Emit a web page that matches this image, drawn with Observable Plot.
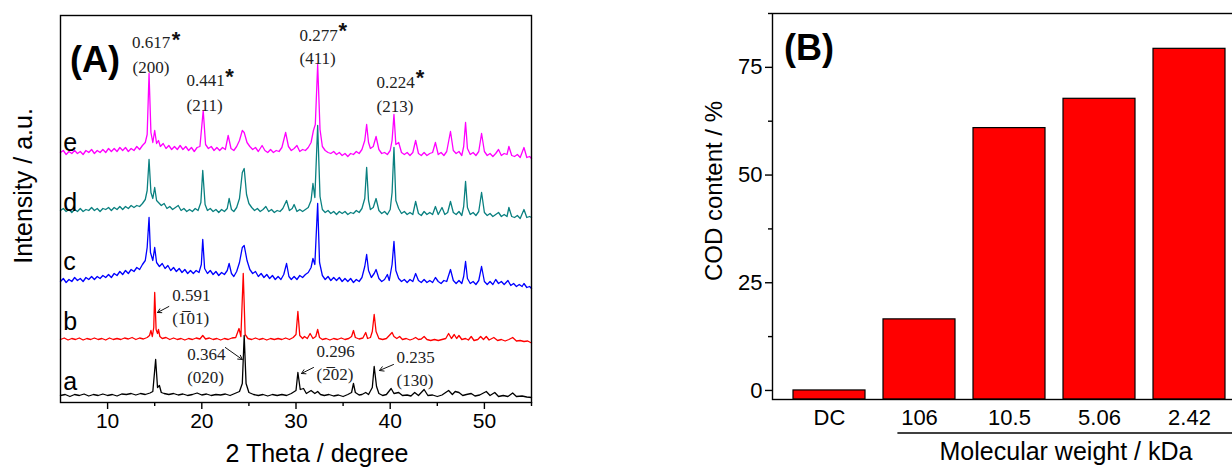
<!DOCTYPE html>
<html><head><meta charset="utf-8">
<script src="https://cdn.jsdelivr.net/npm/d3@7"></script>
<script src="https://cdn.jsdelivr.net/npm/@observablehq/plot@0.6"></script>
<style>
html,body{margin:0;padding:0;background:#fff;}
#wrap{position:relative;width:1232px;height:469px;overflow:hidden;background:#fff;}
#wrap svg{position:absolute;top:0;}
</style></head><body><div id="wrap"></div>
<script>
const SANS = "'Liberation Sans', Arial, Helvetica, sans-serif";
const SERIF = "'Liberation Serif', 'Times New Roman', serif";

// ---------- Panel A data (XRD patterns, 2θ in degrees, intensity in a.u.) ----------
const sampleNames = ["a", "b", "c", "d", "e"];
const sampleColors = ["#000000", "#ff0000", "#0000ff", "#0a8080", "#ff00ff"];
const sampleOffsets = [7, 63, 120, 190, 248];
const letterY = [13, 73, 133, 192, 252];
const majorTicksA = [10, 20, 30, 40, 50];
const minorTicksA = [15, 25, 35, 45, 55];

const traceA = [[5,0],[5.5,1],[6,-1],[6.5,1],[7,0],[7.5,1.5],[8,-0.5],[8.5,1],[9,0],[9.5,1.5],[10,0],[10.5,1],[11,-0.5],[11.5,1.5],[12,1],[12.5,2],[13,0.5],[13.5,2],[14,1],[14.5,2.5],[14.8,4],[15.1,36],[15.3,8],[15.5,10],[15.7,3],[16,2],[16.5,1],[17,2],[17.5,0.5],[18,1.5],[18.5,0],[19,1],[19.5,2.5],[20,0.5],[20.5,1.5],[21,0],[21.5,1],[22,0.5],[22.5,1.5],[23,0],[23.5,2],[24,4],[24.3,12],[24.5,60],[24.7,12],[25,3],[25.5,1],[26,0],[26.5,1],[27,-0.5],[27.5,1],[28,0],[28.5,1],[29,0],[29.5,2],[30,5],[30.2,23],[30.45,6],[30.8,7],[31.1,2],[31.6,5],[32,2],[32.3,4],[32.6,1],[33,0],[33.5,1],[34,-0.5],[34.5,0.5],[35,-1],[35.5,1],[35.9,3],[36.1,12],[36.3,3],[36.7,0.5],[37,1],[37.4,3],[37.7,1],[38.1,8],[38.3,29],[38.55,9],[38.8,2],[39.2,0],[39.6,1],[40.1,7],[40.4,2],[40.9,3],[41.3,0],[41.8,0.5],[42.2,-0.5],[42.6,3],[43,0],[43.6,6],[44,0],[44.5,0.5],[45,-1],[45.5,0.5],[46.2,5],[46.6,1],[46.9,4],[47.3,3],[47.7,0],[48.1,1],[48.6,2],[49,-0.5],[49.5,0.5],[50.2,4],[50.6,0],[51.1,3],[51.5,-1],[52,0],[52.5,-1],[53,2.5],[53.4,-1],[54,-0.5],[54.5,-1.5],[55,-2]];

const traceB = [[5,0],[5.4,1.5],[5.8,-0.5],[6.2,1],[6.6,0],[7,1.5],[7.4,-0.5],[7.8,1],[8.2,0],[8.6,1.5],[9,0],[9.4,1],[9.8,-0.5],[10.2,1.5],[10.6,0],[11,1],[11.4,0],[11.8,1.5],[12.2,0.5],[12.6,2],[13,0],[13.4,1.5],[13.8,0.5],[14.2,2],[14.45,4],[14.6,9],[14.75,3],[14.9,12],[15.0,47],[15.15,10],[15.3,6],[15.4,10],[15.55,3],[15.8,1],[16.2,2],[16.6,0],[17,1.5],[17.4,0],[17.8,1],[18.2,-0.5],[18.6,1],[19,0],[19.4,1.5],[19.8,0.5],[20.1,4],[20.4,0.5],[20.8,1.5],[21.2,0],[21.6,1],[22,-0.5],[22.4,1],[22.8,0],[23.2,1.5],[23.6,2],[23.95,11],[24.15,3],[24.4,66],[24.6,5],[24.9,1],[25.3,0],[25.7,1.5],[26.1,0],[26.5,1],[26.9,-0.5],[27.3,1],[27.7,0],[28.1,1],[28.5,0],[28.9,1.5],[29.3,0],[29.7,2],[30,5],[30.2,28],[30.4,4],[30.7,1],[30.9,3],[31.2,1],[31.5,6],[31.8,1],[32.1,3],[32.3,10],[32.5,2],[32.8,0],[33.2,1],[33.6,-0.5],[34,1],[34.4,0],[34.8,1.5],[35.2,0],[35.6,1],[35.9,3],[36.1,9],[36.3,2],[36.7,0.5],[37.1,1.5],[37.4,7],[37.6,1],[37.9,2],[38.1,8],[38.3,25],[38.5,8],[38.8,1],[39.2,0],[39.6,1],[40,5],[40.2,7],[40.4,3],[40.7,1],[41,3],[41.3,0],[41.7,1],[42.1,-0.5],[42.4,0.5],[42.7,2],[43,0],[43.3,0.5],[43.6,3],[43.9,0],[44.3,-1],[44.7,0],[45.1,-1],[45.5,0],[45.9,1],[46.2,6],[46.5,1],[46.8,5],[47.05,1],[47.3,4],[47.6,0],[48,1],[48.3,-0.5],[48.6,3],[48.9,-1],[49.3,0],[49.6,3],[49.9,0],[50.2,3],[50.5,-0.5],[51,2],[51.4,-1],[51.8,0],[52.2,-1.5],[52.6,0],[53,2],[53.4,-1.5],[53.8,-1],[54.2,-2],[54.6,-1.5],[55,-3.5]];

const traceC = [[5,1],[5.3,4],[5.6,0],[5.9,3],[6.2,1],[6.5,5],[6.8,2],[7.1,4],[7.4,1],[7.7,5],[8,3],[8.3,6],[8.6,3],[8.9,6],[9.2,4],[9.5,7],[9.8,5],[10.1,8],[10.4,5],[10.7,9],[11,7],[11.3,11],[11.6,8],[11.9,12],[12.2,9],[12.5,13],[12.8,11],[13.1,15],[13.4,13],[13.7,18],[14,22],[14.2,35],[14.4,65],[14.55,30],[14.8,22],[15,35],[15.2,20],[15.5,16],[15.8,19],[16.1,14],[16.4,17],[16.7,12],[17,15],[17.3,11],[17.6,14],[17.9,10],[18.2,13],[18.5,9],[18.8,12],[19.1,9],[19.4,12],[19.7,10],[19.95,18],[20.1,43],[20.3,14],[20.6,9],[20.9,12],[21.2,8],[21.5,11],[21.8,7],[22.1,10],[22.4,8],[22.7,12],[22.9,19],[23.15,9],[23.4,6],[23.7,11],[24,20],[24.3,35],[24.5,37],[24.8,22],[25.1,13],[25.4,9],[25.7,11],[26,6],[26.3,9],[26.6,5],[26.9,8],[27.2,4],[27.5,7],[27.8,3],[28.1,6],[28.4,3],[28.7,8],[29,19],[29.25,6],[29.5,3],[29.8,6],[30.1,3],[30.4,7],[30.7,5],[31,8],[31.3,10],[31.6,15],[31.8,24],[32.0,18],[32.3,79],[32.5,20],[32.8,7],[33.1,3],[33.4,6],[33.7,2],[34,5],[34.3,2],[34.6,5],[34.9,1],[35.2,4],[35.5,1],[35.8,4],[36.1,0],[36.4,3],[36.7,1],[37,5],[37.3,16],[37.5,28],[37.7,12],[38,5],[38.3,9],[38.5,13],[38.8,4],[39.1,1],[39.4,3],[39.7,8],[39.9,2],[40.2,18],[40.4,41],[40.6,12],[40.9,4],[41.2,1],[41.5,3],[41.8,0],[42.1,3],[42.4,1],[42.7,9],[43,2],[43.3,0],[43.6,3],[43.9,0],[44.2,2],[44.5,0],[44.8,5],[45.1,1],[45.4,-1],[45.7,2],[46,1],[46.4,13],[46.7,2],[47,-1],[47.3,2],[47.6,-1],[47.8,6],[48,21],[48.2,4],[48.5,-1],[48.8,1],[49.1,-2],[49.4,2],[49.7,16],[50,1],[50.3,-2],[50.6,1],[50.9,-2],[51.2,3],[51.5,-1],[51.8,1],[52.1,-2],[52.5,2],[52.8,-3],[53.1,-1],[53.4,-4],[53.7,-2],[54,-4],[54.2,-1],[54.5,-5],[54.8,-4],[55,-6]];

const traceD = [[5,2],[5.3,4],[5.6,1],[5.9,3],[6.2,0],[6.5,3],[6.8,1],[7.1,4],[7.4,1],[7.7,3],[8,2],[8.3,5],[8.6,2],[8.9,4],[9.2,1],[9.5,4],[9.8,3],[10.1,5],[10.4,2],[10.7,5],[11,3],[11.3,6],[11.6,3],[11.9,6],[12.2,4],[12.5,7],[12.8,5],[13.1,7],[13.4,6],[13.7,9],[14,13],[14.2,22],[14.4,53],[14.6,20],[14.8,14],[15,25],[15.2,12],[15.4,10],[15.7,7],[16,9],[16.3,4],[16.6,6],[16.9,3],[17.2,5],[17.5,7],[17.8,2],[18.1,4],[18.4,1],[18.7,3],[19,1],[19.3,4],[19.6,2],[19.9,10],[20.1,42],[20.35,8],[20.6,2],[20.9,4],[21.2,1],[21.5,3],[21.8,0],[22.1,3],[22.4,1],[22.7,4],[22.9,14],[23.15,3],[23.4,1],[23.7,5],[24,14],[24.3,40],[24.5,44],[24.75,18],[25,9],[25.3,5],[25.6,2],[25.9,4],[26.2,1],[26.5,3],[26.8,6],[27.1,1],[27.4,3],[27.7,0],[28,2],[28.3,1],[28.6,4],[29,12],[29.3,2],[29.6,4],[29.8,8],[30.1,1],[30.4,3],[30.7,1],[31,3],[31.3,5],[31.6,12],[31.8,29],[32.0,15],[32.3,87],[32.55,16],[32.8,3],[33.1,0],[33.4,2],[33.7,-1],[34,1],[34.3,-2],[34.6,1],[34.9,-1],[35.2,1],[35.5,-2],[35.8,0],[36.1,-1],[36.4,2],[36.7,0],[37,4],[37.3,14],[37.5,45],[37.7,12],[37.9,3],[38.2,5],[38.5,14],[38.8,2],[39.1,-1],[39.4,1],[39.7,-2],[40,3],[40.2,20],[40.4,65],[40.6,12],[40.9,4],[41.2,-1],[41.5,1],[41.8,-2],[42.1,0],[42.4,-2],[42.7,11],[43,-1],[43.3,-3],[43.6,1],[43.9,-2],[44.2,0],[44.5,-2],[44.8,6],[45.1,-2],[45.5,5],[45.8,-2],[46.1,0],[46.4,11],[46.7,0],[47,-2],[47.3,1],[47.6,-3],[47.8,6],[48,31],[48.2,5],[48.5,-2],[48.8,0],[49.1,-3],[49.4,1],[49.7,20],[50,0],[50.3,-3],[50.6,-1],[50.9,-4],[51.2,-2],[51.5,0],[51.8,-4],[52.1,-2],[52.4,-4],[52.6,5],[52.9,-4],[53.2,-5],[53.5,-3],[53.8,-6],[54.2,3],[54.5,-5],[54.8,-4],[55,-5]];

const traceE = [[5,2],[5.3,4],[5.6,0],[5.9,3],[6.2,1],[6.5,4],[6.8,1],[7.1,3],[7.4,0],[7.7,4],[8,2],[8.3,5],[8.6,1],[8.9,4],[9.2,2],[9.5,5],[9.8,2],[10.1,6],[10.4,3],[10.7,6],[11,3],[11.3,7],[11.6,4],[11.9,7],[12.2,3],[12.5,6],[12.8,4],[13.1,8],[13.4,5],[13.7,9],[14,12],[14.2,20],[14.4,81],[14.6,22],[14.8,12],[15,24],[15.2,11],[15.4,14],[15.6,8],[15.9,11],[16.2,6],[16.5,9],[16.8,5],[17.1,8],[17.4,5],[17.7,9],[18,5],[18.3,8],[18.6,4],[18.9,7],[19.2,3],[19.5,7],[19.8,8],[20.15,44],[20.4,10],[20.7,6],[21,8],[21.3,4],[21.6,7],[21.9,4],[22.2,7],[22.5,5],[22.8,19],[23.1,6],[23.4,4],[23.7,8],[24,14],[24.3,24],[24.5,22],[24.8,12],[25.1,8],[25.4,5],[25.7,7],[26,3],[26.4,9],[26.7,4],[27,2],[27.3,5],[27.6,2],[27.9,4],[28.2,3],[28.5,7],[28.9,22],[29.2,8],[29.5,4],[29.8,6],[30.1,9],[30.4,3],[30.7,5],[31,4],[31.3,7],[31.6,12],[31.85,24],[32.05,30],[32.3,90],[32.55,25],[32.8,8],[33.1,4],[33.4,2],[33.7,1],[34,3],[34.3,0],[34.6,2],[34.9,-1],[35.2,1],[35.5,-2],[35.8,1],[36.1,0],[36.4,3],[36.7,1],[37,5],[37.3,14],[37.5,30],[37.7,12],[37.9,6],[38.2,8],[38.5,18],[38.8,5],[39.1,1],[39.4,2],[39.7,0],[40,4],[40.2,14],[40.4,40],[40.6,10],[40.9,12],[41.2,2],[41.5,0],[41.8,2],[42.1,-1],[42.4,2],[42.7,14],[43,1],[43.3,-1],[43.6,2],[43.9,-1],[44.2,1],[44.5,2],[44.8,12],[45.1,0],[45.4,2],[45.7,-1],[46,3],[46.4,23],[46.7,4],[47,1],[47.3,3],[47.6,-1],[47.8,8],[48,32],[48.2,6],[48.5,0],[48.8,2],[49.1,-1],[49.4,3],[49.7,21],[50,3],[50.3,-1],[50.6,1],[50.9,-2],[51.2,1],[51.5,5],[51.8,-1],[52.1,1],[52.4,0],[52.6,8],[52.9,-1],[53.2,-2],[53.5,0],[53.8,-3],[54.2,7],[54.5,-3],[54.8,-2],[55,-4]];

const traces = [traceA, traceB, traceC, traceD, traceE];

// d-spacing / hkl annotations (2θ, intensity)
const annotX = [12.59, 12.64, 18.38, 18.38, 30.37, 30.37, 38.55, 38.55, 16.86, 16.86, 18.45, 18.45, 32.18, 32.18, 40.67, 40.67];
const annotY = [355, 330, 317, 292, 362, 339, 315, 291, 102, 79, 43, 20, 46, 23, 40, 17];
const annotText = ["0.617", "(200)", "0.441", "(211)", "0.277", "(411)", "0.224", "(213)",
  "0.591", "(1\u030501)", "0.364", "(020)", "0.296", "(2\u030502)", "0.235", "(130)"];
const starX = [16.8, 22.5, 34.5, 42.7];
const starY = [356, 319, 365, 318];
const arrowX1 = [16.5, 22.5, 31.86, 40.35];
const arrowY1 = [96, 55, 35, 38];
const arrowX2 = [15.3, 24.3, 30.58, 38.86];
const arrowY2 = [90, 43, 29, 32];

// ---------- Panel B data ----------
const mwLabels = ["DC", "106", "10.5", "5.06", "2.42"];
const codContent = [0, 16.5, 60.9, 67.7, 79.3];
const yTicksB = [0, 25, 50, 75];
const yMinorB = [12.5, 37.5, 62.5, 87.5];
const yDomainB = [-2.1, 87.5];

// ---------- Build tables ----------
const rowsA = [];
traces.forEach((tr, i) => tr.forEach(([t, r]) => rowsA.push({theta: t, value: sampleOffsets[i] + r, sample: sampleNames[i]})));
const letters = sampleNames.map((s, i) => ({s, x: 5.3, y: letterY[i]}));
const annots = annotText.map((t, i) => ({t, x: annotX[i], y: annotY[i]}));
const stars = starX.map((x, i) => ({x, y: starY[i]}));
const arrows = arrowX1.map((x1, i) => ({x1, y1: arrowY1[i], x2: arrowX2[i], y2: arrowY2[i]}));
const rowsB = mwLabels.map((c, i) => ({cat: c, cod: codContent[i]}));

const wrap = document.getElementById("wrap");

const plotA = Plot.plot({
  width: 560, height: 469,
  marginLeft: 60, marginRight: 29, marginTop: 15, marginBottom: 67,
  x: {domain: [5, 55]},
  y: {domain: [0, 387], axis: null},
  color: {domain: sampleNames, range: sampleColors},
  style: {fontFamily: SANS, background: "transparent", overflow: "visible", color: "#000"},
  marks: [
    Plot.line(rowsA, {x: "theta", y: "value", stroke: "sample", z: "sample", strokeWidth: 1.3}),
    Plot.frame({stroke: "#000", strokeWidth: 1.4}),
    Plot.axisX({ticks: majorTicksA, tickSize: 7, tickPadding: 4, fontSize: 21, label: null, strokeWidth: 1.4}),
    Plot.axisX({ticks: minorTicksA, tickSize: 4, tickFormat: () => "", label: null, strokeWidth: 1.4}),
    Plot.text(letters, {x: "x", y: "y", text: "s", textAnchor: "start", lineAnchor: "bottom", fontSize: 25, fill: "#000"}),
    Plot.text(annots, {x: "x", y: "y", text: "t", textAnchor: "start", lineAnchor: "bottom", fontSize: 17, fontFamily: SERIF, fill: "#222"}),
    Plot.text(stars, {x: "x", y: "y", text: () => "*", textAnchor: "start", lineAnchor: "bottom", fontSize: 22, fontWeight: "bold", fill: "#111"}),
    Plot.arrow(arrows, {x1: "x1", y1: "y1", x2: "x2", y2: "y2", stroke: "#111", strokeWidth: 1, headLength: 7})
  ]
});
plotA.style.left = "0px";
wrap.appendChild(plotA);

const sA = d3.select(plotA);
sA.append("text").attr("x", 70).attr("y", 72).attr("text-anchor", "start").attr("font-size", 36).attr("font-weight", "bold")
  .attr("font-family", SANS).attr("fill", "#000").text("(A)");
sA.append("text").attr("transform", "translate(32,186) rotate(-90)").attr("text-anchor", "middle")
  .attr("font-size", 25).attr("font-family", SANS).attr("fill", "#000").text("Intensity / a.u.");
sA.append("text").attr("x", 317).attr("y", 462).attr("text-anchor", "middle")
  .attr("font-size", 25).attr("font-family", SANS).attr("fill", "#000").text("2 Theta / degree");

const plotB = Plot.plot({
  width: 575, height: 469,
  marginLeft: 82, marginRight: 20, marginTop: 13, marginBottom: 70,
  x: {domain: mwLabels, paddingInner: 0.2, paddingOuter: 0.21},
  y: {domain: yDomainB},
  style: {fontFamily: SANS, background: "transparent", overflow: "visible", color: "#000"},
  marks: [
    Plot.barY(rowsB, {x: "cat", y1: yDomainB[0], y2: "cod", fill: "#ff0000", stroke: "#000", strokeWidth: 1.2}),
    Plot.frame({stroke: "#000", strokeWidth: 1.4}),
    Plot.axisY({ticks: yTicksB, tickSize: 7, tickPadding: 3, fontSize: 22, label: null, strokeWidth: 1.4}),
    Plot.axisY({ticks: yMinorB, tickSize: 4, tickFormat: () => "", label: null, strokeWidth: 1.4}),
    Plot.axisX({tickSize: 0, tickPadding: 10, fontSize: 22, label: null})
  ]
});
plotB.style.left = "690px";
wrap.appendChild(plotB);

const xs = plotB.scale("x");
const sB = d3.select(plotB);
const lineStart = xs.apply(mwLabels[1]) + xs.bandwidth * 0.2;
sB.append("line").attr("x1", lineStart).attr("x2", 575).attr("y1", 433).attr("y2", 433)
  .attr("stroke", "#000").attr("stroke-width", 1.3);
sB.append("text").attr("x", 376).attr("y", 460).attr("text-anchor", "middle")
  .attr("font-size", 25).attr("font-family", SANS).attr("fill", "#000").text("Molecular weight / kDa");
sB.append("text").attr("transform", "translate(32,191) rotate(-90)").attr("text-anchor", "middle")
  .attr("font-size", 24).attr("font-family", SANS).attr("fill", "#000").text("COD content / %");
sB.append("text").attr("x", 94).attr("y", 60).attr("text-anchor", "start").attr("font-size", 36).attr("font-weight", "bold")
  .attr("font-family", SANS).attr("fill", "#000").text("(B)");
</script></body></html>
